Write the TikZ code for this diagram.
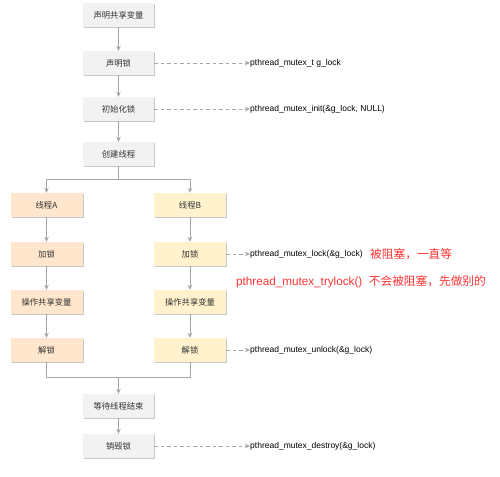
\documentclass[tikz,border=0pt]{standalone}
\usepackage{fontspec}
\setmainfont{Liberation Sans}
\newfontfamily\cjk{Noto Sans CJK SC}
\usetikzlibrary{arrows.meta,shadows}
\definecolor{boxgrey}{HTML}{F2F2F2}
\definecolor{peach}{HTML}{FFE6CC}
\definecolor{pale}{HTML}{FFF2CC}
\definecolor{linegrey}{HTML}{A6A6A6}
\definecolor{redtext}{HTML}{FF3333}
\tikzset{
  boxstyle/.style={minimum width=71pt, minimum height=24pt, inner sep=0pt,
    font=\cjk\fontsize{8.3}{10}\selectfont, text=black!80,
    drop shadow={shadow xshift=1.3pt, shadow yshift=-1.3pt, fill=black!22, opacity=1}},
  greybox/.style={boxstyle, fill=boxgrey},
  abox/.style={boxstyle, fill=peach, minimum width=72pt},
  bbox/.style={boxstyle, fill=pale, minimum width=72pt},
  arr/.style={draw=linegrey, line width=0.8pt, -{Stealth[length=5pt,width=4.5pt]}},
  conn/.style={draw=linegrey, line width=0.8pt},
  darr/.style={arr, dashed, dash pattern=on 3.5pt off 3pt},
  lbl/.style={anchor=west, inner sep=0pt, font=\fontsize{8.5}{10}\selectfont},
  redlbl/.style={anchor=west, inner sep=0pt, text=redtext, font=\fontsize{11.7}{13}\selectfont}
}
\begin{document}
\begin{tikzpicture}[x=1pt,y=-1pt]
\useasboundingbox[fill=white] (0,0) rectangle (500,476);
% centre column
\node[greybox] (c1) at (118.5,15) {声明共享变量};
\node[greybox] (c2) at (118.5,63) {声明锁};
\node[greybox] (c3) at (118.5,109) {初始化锁};
\node[greybox] (c4) at (118.5,154) {创建线程};
% thread A
\node[abox] (a1) at (46.5,205) {线程A};
\node[abox] (a2) at (46.5,254) {加锁};
\node[abox] (a3) at (46.5,302) {操作共享变量};
\node[abox] (a4) at (46.5,350) {解锁};
% thread B
\node[bbox] (b1) at (190,205) {线程B};
\node[bbox] (b2) at (190,254) {加锁};
\node[bbox] (b3) at (190,302) {操作共享变量};
\node[bbox] (b4) at (190,350) {解锁};
% end
\node[greybox] (w) at (118.5,406) {等待线程结束};
\node[greybox] (d) at (118.5,446) {销毁锁};
% labels
\node[lbl] (l2) at (250,63) {pthread\_mutex\_t g\_lock};
\node[lbl] (l3) at (250,109) {pthread\_mutex\_init(\&g\_lock, NULL)};
\node[lbl] (l4) at (250,254) {pthread\_mutex\_lock(\&g\_lock)};
\node[lbl] (l5) at (250,350) {pthread\_mutex\_unlock(\&g\_lock)};
\node[lbl] (l6) at (250,446) {pthread\_mutex\_destroy(\&g\_lock)};
\node[redlbl] (r1) at (370,254) {\cjk 被阻塞，一直等};
\node[redlbl] (r2) at (236,282) {pthread\_mutex\_trylock()\ \ {\cjk 不会被阻塞，先做别的}};
% main flow
\draw[arr] (c1) -- (c2);
\draw[arr] (c2) -- (c3);
\draw[arr] (c3) -- (c4);
\coordinate (br) at (118.5,179);
\draw[conn] (c4.south) -- (br);
\draw[arr] (br) -| (a1.north);
\draw[arr] (br) -| (b1.north);
\draw[arr] (a1) -- (a2);
\draw[arr] (a2) -- (a3);
\draw[arr] (a3) -- (a4);
\draw[arr] (b1) -- (b2);
\draw[arr] (b2) -- (b3);
\draw[arr] (b3) -- (b4);
\coordinate (mg) at (118.5,377);
\draw[conn] (a4.south) |- (mg);
\draw[conn] (b4.south) |- (mg);
\draw[arr] (mg) -- (w.north);
\draw[arr] (w) -- (d);
% dashed
\draw[darr] (c2.east) -- (l2.west);
\draw[darr] (c3.east) -- (l3.west);
\draw[darr] (b2.east) -- (l4.west);
\draw[darr] (b4.east) -- (l5.west);
\draw[darr] (d.east) -- (l6.west);
\end{tikzpicture}
\end{document}
